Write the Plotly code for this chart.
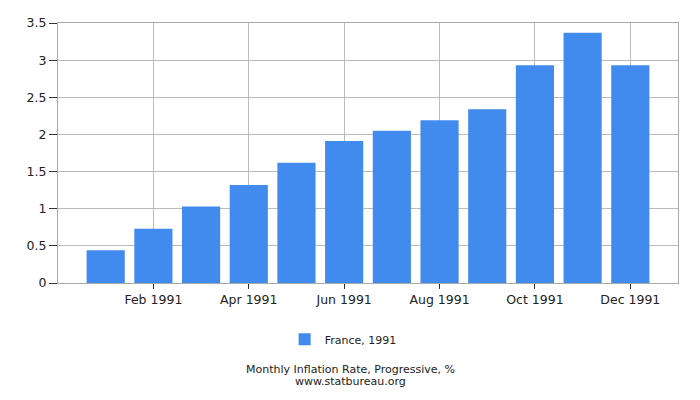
import plotly.graph_objects as go

months = ["Jan 1991", "Feb 1991", "Mar 1991", "Apr 1991", "May 1991", "Jun 1991",
          "Jul 1991", "Aug 1991", "Sep 1991", "Oct 1991", "Nov 1991", "Dec 1991"]
values = [0.44, 0.73, 1.03, 1.32, 1.62, 1.91, 2.05, 2.19, 2.34, 2.93, 3.37, 2.93]
tick_months = ["Feb 1991", "Apr 1991", "Jun 1991", "Aug 1991", "Oct 1991", "Dec 1991"]
y_ticks = [0, 0.5, 1, 1.5, 2, 2.5, 3, 3.5]
y_labels = ["0", "0.5", "1", "1.5", "2", "2.5", "3", "3.5"]
series_name = "France, 1991"
title_text = "Monthly Inflation Rate, Progressive, %"
source_text = "www.statbureau.org"

font = "DejaVu Sans"

# page body adds an 8px offset; margins compensate so the plot lands where the reference has it
W, H = 700, 400
M_L, M_T, M_R, M_B = 49.5, 14.5, 29.7, 124.5
plot_h = H - M_T - M_B
plot_w = W - M_L - M_R


def paper_y(px_ref):
    px = px_ref - 8
    return (H - M_B - px) / plot_h


def paper_x(px_ref):
    px = px_ref - 8
    return (px - M_L) / plot_w


fig = go.Figure()
fig.add_trace(go.Bar(x=months, y=values, name=series_name, marker_color="#428bee",
                     marker_line_width=0, width=0.8, showlegend=True))

fig.update_layout(
    width=W, height=H,
    margin=dict(l=M_L, r=M_R, t=M_T, b=M_B, autoexpand=False),
    paper_bgcolor="white", plot_bgcolor="white",
    font=dict(family=font, size=12, color="#222"),
    showlegend=True,
    legend=dict(orientation="h", x=paper_x(343), xanchor="center", y=paper_y(340), yanchor="middle",
                font=dict(size=11, family=font, color="#222")),
    xaxis=dict(type="category", categoryorder="array", categoryarray=months,
               range=[-1, 12], tickmode="array", tickvals=tick_months, ticktext=tick_months,
               showgrid=True, gridcolor="#bbbbbb", gridwidth=1,
               showline=True, linecolor="#aaaaaa", linewidth=1, mirror=True,
               ticks="outside", ticklen=5, tickcolor="#333", tickfont=dict(size=12.5),
               zeroline=False, automargin=False),
    yaxis=dict(range=[0, 3.5], tickmode="array", tickvals=y_ticks, ticktext=y_labels,
               showgrid=True, gridcolor="#bbbbbb", gridwidth=1,
               showline=True, linecolor="#aaaaaa", linewidth=1, mirror=True,
               ticks="outside", ticklen=8, tickcolor="#333", tickfont=dict(size=12.5),
               zeroline=False, automargin=False),
    annotations=[
        dict(text=title_text, x=paper_x(350), xref="paper", xanchor="center",
             y=paper_y(370.5), yref="paper",
             yanchor="middle", showarrow=False, font=dict(size=11, family=font, color="#222")),
        dict(text=source_text, x=paper_x(350), xref="paper", xanchor="center",
             y=paper_y(382), yref="paper",
             yanchor="middle", showarrow=False, font=dict(size=11, family=font, color="#222")),
    ],
)

fig.write_html("out.html")
